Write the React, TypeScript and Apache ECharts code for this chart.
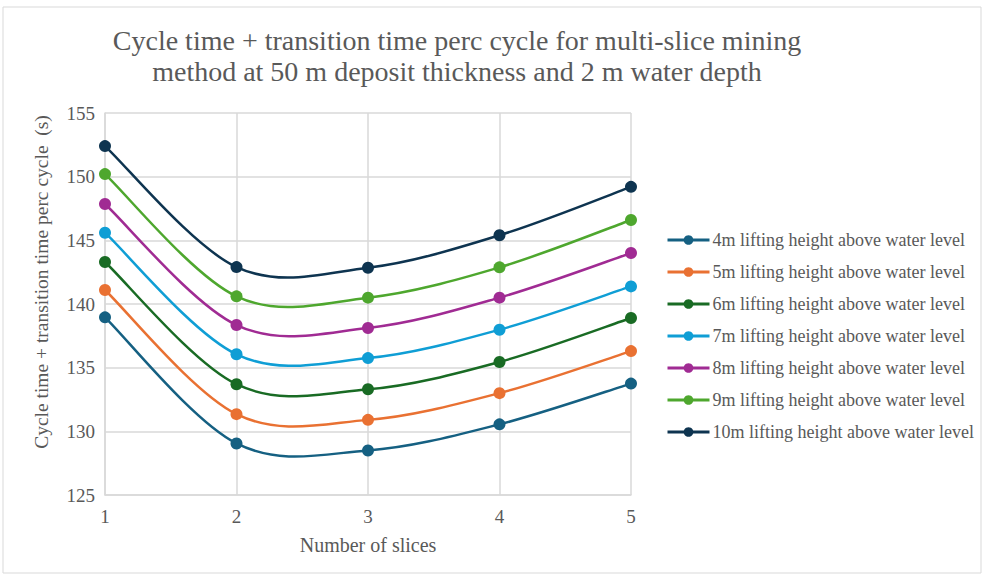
import React, { useEffect, useRef } from "react";
import * as echarts from "echarts";

const categories = ["1", "2", "3", "4", "5"];
const seriesNames = [
  "4m lifting height above water level",
  "5m lifting height above water level",
  "6m lifting height above water level",
  "7m lifting height above water level",
  "8m lifting height above water level",
  "9m lifting height above water level",
  "10m lifting height above water level",
];
const s4 = [138.95, 129.05, 128.5, 130.55, 133.75];
const s5 = [141.1, 131.35, 130.9, 133.0, 136.3];
const s6 = [143.3, 133.7, 133.3, 135.45, 138.9];
const s7 = [145.6, 136.05, 135.75, 137.98, 141.38];
const s8 = [147.85, 138.35, 138.12, 140.5, 144.0];
const s9 = [150.2, 140.6, 140.5, 142.88, 146.6];
const s10 = [152.4, 142.9, 142.85, 145.4, 149.2];
const seriesData = [s4, s5, s6, s7, s8, s9, s10];
const colors = ["#156082", "#E97132", "#196B24", "#0F9ED5", "#A02B93", "#4EA72E", "#0E3450"];

function makeRender(data: number[], color: string) {
  return (params: any, api: any) => {
    const i = params.dataIndex;
    const n = data.length;
    if (i >= n - 1) return { type: "group", children: [] };
    const P = (k: number) => {
      const kk = Math.max(0, Math.min(n - 1, k));
      return api.coord([kk, data[kk]]);
    };
    const p0 = P(i - 1), p1 = P(i), p2 = P(i + 1), p3 = P(i + 2);
    const t = 1 / 6;
    return {
      type: "bezierCurve",
      shape: {
        x1: p1[0], y1: p1[1],
        x2: p2[0], y2: p2[1],
        cpx1: p1[0] + (p2[0] - p0[0]) * t,
        cpy1: p1[1] + (p2[1] - p0[1]) * t,
        cpx2: p2[0] - (p3[0] - p1[0]) * t,
        cpy2: p2[1] - (p3[1] - p1[1]) * t,
      },
      style: { stroke: color, lineWidth: 2.5, fill: "none" },
      silent: true,
    };
  };
}

export default function App() {
  const ref = useRef<HTMLDivElement>(null);
  useEffect(() => {
    if (!ref.current) return;
    const chart = echarts.init(ref.current, null, { renderer: "svg" });
    const font = "'Liberation Serif', 'Times New Roman', serif";
    const curves = seriesData.map((d, i) => ({
      name: "curve " + seriesNames[i],
      type: "custom",
      data: d.map((v, k) => [k, v]),
      encode: { x: 0, y: 1 },
      renderItem: makeRender(d, colors[i]),
      z: 1,
      silent: true,
    }));
    const markers = seriesData.map((d, i) => ({
      name: seriesNames[i],
      type: "line",
      data: d,
      symbol: "circle",
      symbolSize: 12,
      color: colors[i],
      lineStyle: { width: 0, opacity: 0, color: colors[i] },
      itemStyle: { color: colors[i] },
      z: 3,
    }));
    chart.setOption({
      animation: false,
      backgroundColor: "#ffffff",
      textStyle: { fontFamily: font },
      graphic: [
        {
          type: "rect",
          shape: { x: 3, y: 7, width: 978, height: 566 },
          style: { fill: "none", stroke: "#d9d9d9", lineWidth: 1 },
          silent: true,
        },
      ],
      title: {
        text: "Cycle time + transition time perc cycle for multi-slice mining\nmethod at 50 m deposit thickness and 2 m water depth",
        left: 452,
        top: 20,
        textAlign: "center",
        textStyle: {
          fontFamily: font,
          fontSize: 28,
          fontWeight: "normal",
          color: "#595959",
          lineHeight: 31,
        },
      },
      legend: {
        orient: "vertical",
        left: 661,
        top: 226,
        itemGap: 14,
        itemWidth: 42,
        itemHeight: 12,
        textStyle: { fontFamily: font, fontSize: 18, color: "#595959", padding: [0, 0, 0, -2] },
        data: seriesNames.map((n, i) => ({
          name: n,
          itemStyle: { color: colors[i] },
          lineStyle: { color: colors[i], width: 3, opacity: 1 },
        })),
      },
      grid: { left: 105, right: 354, top: 113, bottom: 82 },
      xAxis: {
        type: "category",
        boundaryGap: false,
        data: categories,
        name: "Number of slices",
        nameLocation: "middle",
        nameGap: 40,
        nameTextStyle: { fontFamily: font, fontSize: 20, color: "#595959" },
        axisLine: { lineStyle: { color: "#d9d9d9", width: 1.5 } },
        axisTick: { show: false },
        axisLabel: { fontFamily: font, fontSize: 19, color: "#595959", margin: 12 },
        splitLine: { show: true, lineStyle: { color: "#d9d9d9", width: 1.5 } },
      },
      yAxis: {
        type: "value",
        min: 125,
        max: 155,
        interval: 5,
        name: "Cycle time + transition time perc cycle  (s)",
        nameLocation: "middle",
        nameGap: 54,
        nameTextStyle: { fontFamily: font, fontSize: 19.5, color: "#595959", padding: [0, 0, 0, 44] },
        axisLine: { show: true, lineStyle: { color: "#d9d9d9", width: 1.5 } },
        axisTick: { show: false },
        axisLabel: { fontFamily: font, fontSize: 19, color: "#595959", margin: 10 },
        splitLine: { lineStyle: { color: "#d9d9d9", width: 1.5 } },
      },
      series: [...curves, ...markers],
    });
    return () => chart.dispose();
  }, []);
  return <div ref={ref} style={{ position: "fixed", left: 0, top: 0, width: 985, height: 577 }} />;
}
